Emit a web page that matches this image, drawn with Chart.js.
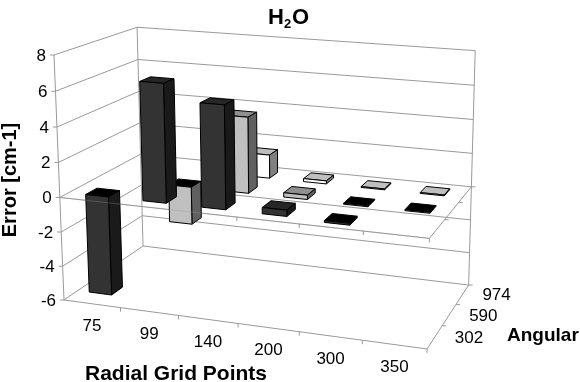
<!DOCTYPE html>
<html>
<head>
<meta charset="utf-8">
<title>H2O</title>
<script src="https://cdn.jsdelivr.net/npm/chart.js@4"></script>
<style>
    html, body { margin: 0; padding: 0; background: #fff; }
    canvas { display: block; }
</style>
</head>
<body>
<canvas id="grafico" width="580" height="382"></canvas>
<script>
const radial = ['75', '99', '140', '200', '300', '350'];
const angular = ['302', '590', '974'];
const errorTicks = [8, 6, 4, 2, 0, -2, -4, -6];

const erro302 = [-5.75, 6.7, 5.8, 0.35, -0.1, null];
const erro590 = [null, -2.2, 4.4, 0.25, -0.05, -0.05];
const erro974 = [null, null, 1.4, 0.18, 0.05, 0.05];

// front, side, top, top when the bar goes below zero
const cores302 = ['#333333', '#1a1a1a', '#262626', '#000000'];
const cores590 = ['#c0c0c0', '#606060', '#909090', '#000000'];
const cores974 = ['#ffffff', '#808080', '#bfbfbf', '#000000'];

const FONTE = '"Liberation Sans", Arial, sans-serif';
const LINHA = '#999999';
const BARRA = 0.2; // half of the bar footprint, in category units

// perspective of the box: u along radial, w along angular, t along error (all 0..1)
function projetar(u, w, t) {
    const d = 1 - 0.079 * u + 0.125 * w - 0.04 * t;
    return {
        x: (64 + 329.3 * u + 96.9 * w - 12.16 * t) / d,
        y: (300 + 21.4 * u - 23.25 * w - 247.2 * t) / d
    };
}

// data values -> box position, through the chart scales
function caixa(chart, xVal, zVal, yVal) {
    const s = chart.scales;
    return projetar(
        (s.x.getPixelForValue(xVal) - s.x.left) / s.x.width,
        (s.z.getPixelForValue(zVal) - s.z.left) / s.z.width,
        (s.y.bottom - s.y.getPixelForValue(yVal)) / s.y.height
    );
}

function face(ctx, pts, cor) {
    ctx.beginPath();
    pts.forEach((p, i) => i ? ctx.lineTo(p.x, p.y) : ctx.moveTo(p.x, p.y));
    ctx.closePath();
    ctx.fillStyle = cor;
    ctx.fill();
    ctx.stroke();
}

function linha(ctx, a, b) {
    ctx.beginPath();
    ctx.moveTo(a.x, a.y);
    ctx.lineTo(b.x, b.y);
    ctx.stroke();
}

class Barras3d extends Chart.BarController {
    draw() {
        const chart = this.chart;
        const ctx = chart.ctx;
        const ds = this.getDataset();
        const row = this.index;
        ctx.save();
        ctx.strokeStyle = '#000';
        ctx.lineWidth = 1;
        ctx.lineJoin = 'round';
        ds.data.forEach((v, i) => {
            if (v === null) return;
            const p = (a, b, c) => caixa(chart, i + a * BARRA, row + 0.5 + b * BARRA, c);
            const alto = Math.max(v, 0);
            const baixo = Math.min(v, 0);
            face(ctx, [p(-1, -1, alto), p(-1, 1, alto), p(1, 1, alto), p(1, -1, alto)], v < 0 ? ds.cores[3] : ds.cores[2]);
            face(ctx, [p(1, -1, baixo), p(1, 1, baixo), p(1, 1, alto), p(1, -1, alto)], ds.cores[1]);
            face(ctx, [p(-1, -1, baixo), p(1, -1, baixo), p(1, -1, alto), p(-1, -1, alto)], ds.cores[0]);
        });
        ctx.restore();
    }
}
Barras3d.id = 'barras3d';
Barras3d.defaults = Chart.BarController.defaults;
Barras3d.overrides = Chart.BarController.overrides;
Chart.register(Barras3d);

// limits of the box in category units
const xIni = -0.5, xFim = radial.length - 0.5;
const zFim = angular.length;

const paredes = {
    id: 'paredes',
    beforeDatasetsDraw(chart) {
        const ctx = chart.ctx;
        const yMin = errorTicks[errorTicks.length - 1], yMax = errorTicks[0];
        ctx.save();
        ctx.strokeStyle = LINHA;
        ctx.lineWidth = 1;
        errorTicks.forEach(v => {
            const frente = caixa(chart, xIni, 0, v);
            const fundo = caixa(chart, xIni, zFim, v);
            linha(ctx, { x: frente.x - 4, y: frente.y }, frente);
            linha(ctx, frente, fundo);
            linha(ctx, fundo, caixa(chart, xFim, zFim, v));
        });
        linha(ctx, caixa(chart, xIni, 0, yMin), caixa(chart, xIni, 0, yMax));
        linha(ctx, caixa(chart, xIni, zFim, yMin), caixa(chart, xIni, zFim, yMax));
        linha(ctx, caixa(chart, xFim, zFim, yMin), caixa(chart, xFim, zFim, yMax));
        // floor and the plane at zero
        [yMin, 0].forEach(v => {
            linha(ctx, caixa(chart, xIni, 0, v), caixa(chart, xFim, 0, v));
            linha(ctx, caixa(chart, xFim, 0, v), caixa(chart, xFim, zFim, v));
            radial.forEach((r, i) => {
                const a = caixa(chart, i + 0.5, 0, v);
                linha(ctx, a, { x: a.x, y: a.y + 4 });
            });
            angular.forEach((r, i) => {
                const a = caixa(chart, xFim, i + 1, v);
                linha(ctx, a, { x: a.x + 4, y: a.y });
            });
        });
        ctx.restore();
    },
    afterDatasetsDraw(chart) {
        const ctx = chart.ctx;
        ctx.save();
        // grid of the zero plane shows faintly over the bars
        ctx.strokeStyle = 'rgba(150,150,150,0.35)';
        linha(ctx, caixa(chart, xIni, 0, 0), caixa(chart, xFim, 0, 0));
        ctx.fillStyle = '#000';

        ctx.font = '17px ' + FONTE;
        ctx.textBaseline = 'middle';
        ctx.textAlign = 'right';
        errorTicks.forEach(v => {
            const a = caixa(chart, xIni, 0, v);
            ctx.fillText(String(v), a.x - 8, a.y + 1);
        });
        ctx.textAlign = 'center';
        radial.forEach((r, i) => {
            const a = caixa(chart, i, 0, -6);
            ctx.fillText(r, a.x, a.y + 23);
        });
        ctx.textAlign = 'left';
        angular.forEach((r, i) => {
            const a = caixa(chart, xFim, i + 0.5, -6);
            ctx.fillText(r, a.x + 20, a.y + 1);
        });

        // title with the subscript set by hand
        ctx.font = 'bold 22px ' + FONTE;
        ctx.fillText('H', 268, 18);
        ctx.fillText('O', 292, 18);
        ctx.font = 'bold 13px ' + FONTE;
        ctx.fillText('2', 284, 24);

        ctx.font = 'bold 19px ' + FONTE;
        ctx.fillText('Angular', 507, 336);
        ctx.font = 'bold 21px ' + FONTE;
        ctx.textAlign = 'center';
        ctx.fillText('Radial Grid Points', 176, 374);
        ctx.font = 'bold 20px ' + FONTE;
        ctx.translate(10, 180);
        ctx.rotate(-Math.PI / 2);
        ctx.fillText('Error [cm-1]', 0, 0);
        ctx.restore();
    }
};

new Chart(document.getElementById('grafico'), {
    type: 'barras3d',
    data: {
        labels: radial,
        datasets: [
            { label: angular[0], data: erro302, cores: cores302 },
            { label: angular[1], data: erro590, cores: cores590 },
            { label: angular[2], data: erro974, cores: cores974 }
        ]
    },
    options: {
        responsive: false,
        animation: false,
        layout: { padding: 0 },
        scales: {
            x: { type: 'category', offset: true, display: false },
            y: { type: 'linear', min: -6, max: 8, display: false },
            z: { type: 'linear', axis: 'x', offset: false, min: 0, max: 3, display: false }
        },
        plugins: {
            legend: { display: false },
            tooltip: { enabled: false }
        }
    },
    plugins: [paredes]
});
</script>
</body>
</html>
